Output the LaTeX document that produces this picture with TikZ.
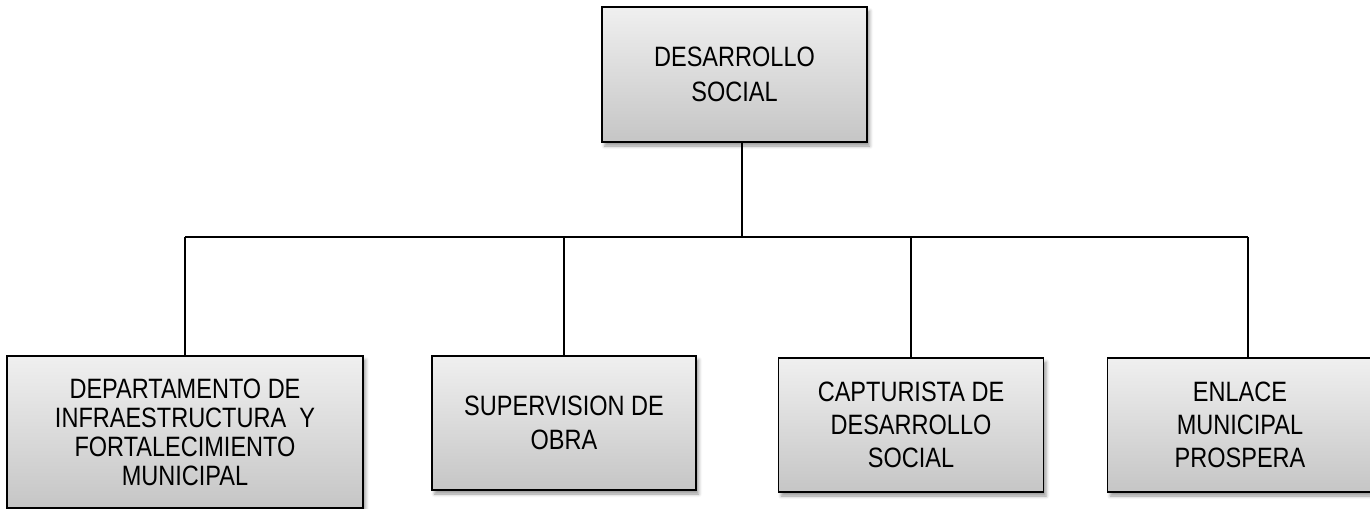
\documentclass[tikz,border=0pt]{standalone}
\usepackage{fontspec}
\setmainfont{Liberation Sans}[FakeStretch=0.84]
\usepackage{tikz}
\usetikzlibrary{positioning,shadows.blur}

\tikzset{
  cargo/.style={draw=black, line width=1.3pt, top color=gray!12, bottom color=gray!45,
    rectangle, align=center, inner sep=0pt,
    font=\fontsize{21pt}{25pt}\selectfont,
    blur shadow={shadow xshift=2pt, shadow yshift=-3pt, shadow blur radius=2.5pt, shadow opacity=40}},
  linea/.style={draw=black, line width=1.1pt}
}

\begin{document}
\begin{tikzpicture}[x=0.75pt,y=0.75pt,yscale=-1,xscale=1]
\useasboundingbox (0,0) rectangle (1370,508);

%Direccion
\node[cargo, minimum width=198.75pt, minimum height=101.25pt, font=\fontsize{21pt}{26pt}\selectfont] (dir) at (734.5,74.5) {DESARROLLO\\SOCIAL};

%Areas
\node[cargo, minimum width=267pt, minimum height=114pt, font=\fontsize{21pt}{21.75pt}\selectfont] (infra) at (185,432) {DEPARTAMENTO DE\\INFRAESTRUCTURA\ \ Y\\FORTALECIMIENTO\\MUNICIPAL};
\node[cargo, minimum width=198pt, minimum height=100.5pt] (superv) at (564,423) {SUPERVISION DE\\OBRA};
\node[cargo, minimum width=198.75pt, minimum height=100.5pt] (captur) at (911,425) {CAPTURISTA DE\\DESARROLLO\\SOCIAL};
\node[cargo, minimum width=198.75pt, minimum height=100.5pt] (enlace) at (1240,425) {ENLACE\\MUNICIPAL\\PROSPERA};

%Conectores
\coordinate (bus) at (742,237);
\coordinate (busL) at (185,237);
\coordinate (busR) at (1248,237);
\draw[linea] (bus |- dir.south) -- (bus);
\draw[linea] (busL) -- (busR);
\draw[linea] (busL) -- (infra.north);
\draw[linea] (busL -| superv.north) -- (superv.north);
\draw[linea] (busL -| captur.north) -- (captur.north);
\draw[linea] (busR) -- (busR |- enlace.north);

\end{tikzpicture}
\end{document}
